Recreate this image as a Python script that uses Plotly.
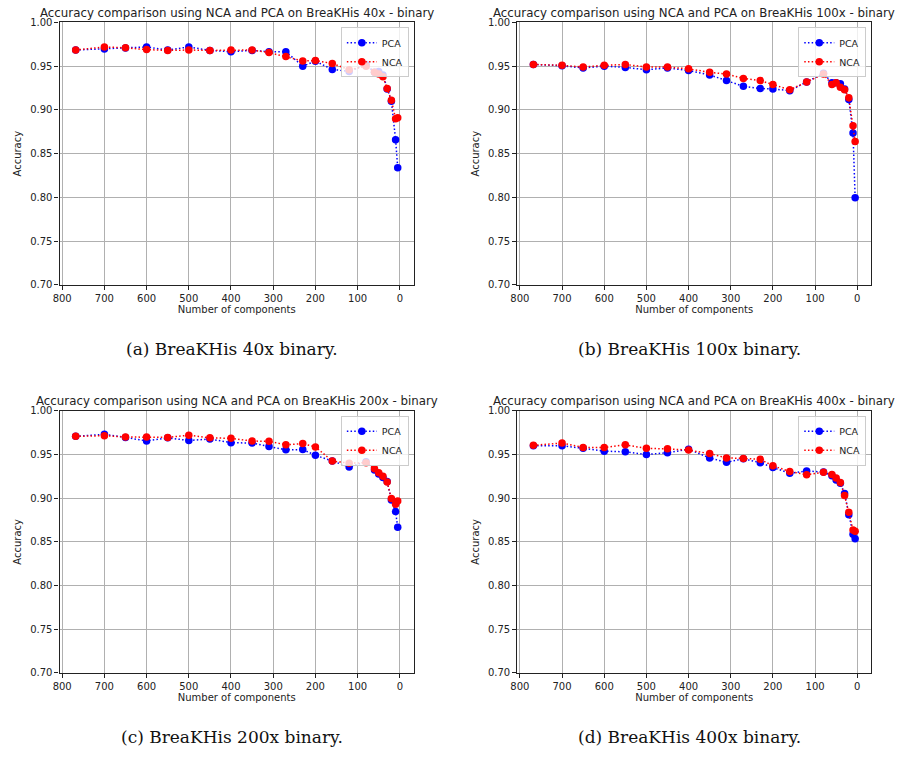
import plotly.graph_objects as go

components = [768, 700, 650, 600, 550, 500, 450, 400, 350, 310, 270, 230, 200,
              160, 120, 80, 60, 50, 40, 30, 20, 10, 5]

pca_40x = [0.9685, 0.9696, 0.9707, 0.972, 0.9685, 0.972, 0.968, 0.9666, 0.968, 0.9666,
           0.9666, 0.950, 0.9557, 0.9463, 0.944, 0.952, 0.943, 0.944, 0.940, 0.924,
           0.910, 0.866, 0.834]
nca_40x = [0.9685, 0.972, 0.971, 0.969, 0.968, 0.9685, 0.968, 0.9685, 0.9685, 0.9655,
           0.961, 0.956, 0.9565, 0.953, 0.946, 0.950, 0.943, 0.941, 0.938, 0.9245,
           0.911, 0.890, 0.891]

pca_100x = [0.952, 0.9505, 0.948, 0.950, 0.9486, 0.946, 0.948, 0.945, 0.940, 0.9335,
            0.927, 0.9245, 0.924, 0.922, 0.932, 0.942, 0.931, 0.931, 0.930, 0.924,
            0.912, 0.8735, 0.7995]
nca_100x = [0.952, 0.951, 0.949, 0.951, 0.952, 0.949, 0.949, 0.947, 0.943, 0.941,
            0.936, 0.9335, 0.929, 0.923, 0.932, 0.941, 0.929, 0.931, 0.926, 0.923,
            0.914, 0.882, 0.864]

pca_200x = [0.9707, 0.973, 0.9695, 0.9655, 0.969, 0.966, 0.9677, 0.9635, 0.963, 0.959,
            0.9553, 0.9556, 0.949, 0.9425, 0.9357, 0.9417, 0.9323, 0.9275, 0.9237, 0.919,
            0.8978, 0.8846, 0.8666]
nca_200x = [0.9707, 0.9715, 0.970, 0.970, 0.9695, 0.972, 0.969, 0.9685, 0.9654, 0.965,
            0.961, 0.9624, 0.9586, 0.9425, 0.940, 0.9406, 0.9335, 0.929, 0.925, 0.9185,
            0.8996, 0.893, 0.8966]

pca_400x = [0.960, 0.960, 0.957, 0.9538, 0.953, 0.950, 0.952, 0.956, 0.946, 0.941,
            0.945, 0.9406, 0.935, 0.9286, 0.931, 0.930, 0.9256, 0.9207, 0.917, 0.9053,
            0.881, 0.8587, 0.8534]
nca_400x = [0.9605, 0.963, 0.958, 0.958, 0.961, 0.957, 0.9564, 0.955, 0.951, 0.946,
            0.9455, 0.9444, 0.937, 0.9305, 0.9267, 0.9297, 0.927, 0.923, 0.918, 0.903,
            0.884, 0.8636, 0.862]

titles = ["Accuracy comparison using NCA and PCA on BreaKHis 40x - binary",
          "Accuracy comparison using NCA and PCA on BreaKHis 100x - binary",
          "Accuracy comparison using NCA and PCA on BreaKHis 200x - binary",
          "Accuracy comparison using NCA and PCA on BreaKHis 400x - binary"]
captions = ["(a) BreaKHis 40x binary.", "(b) BreaKHis 100x binary.",
            "(c) BreaKHis 200x binary.", "(d) BreaKHis 400x binary."]
y_ticks = [0.70, 0.75, 0.80, 0.85, 0.90, 0.95, 1.00]
x_ticks = [0, 100, 200, 300, 400, 500, 600, 700, 800]

W, H = 899, 763
panels = [
    (pca_40x, nca_40x, (53.0, 410.0), (17.7, 284.0)),
    (pca_100x, nca_100x, (514.3, 871.0), (17.7, 284.0)),
    (pca_200x, nca_200x, (53.0, 410.0), (411.7, 677.7)),
    (pca_400x, nca_400x, (514.3, 871.0), (411.7, 677.7)),
]
caption_y = [349, 349, 743, 743]

FONT = "DejaVu Sans"
fig = go.Figure()
annotations = []
layout = dict(width=W, height=H, margin=dict(l=0, r=0, t=0, b=0),
              paper_bgcolor="white", plot_bgcolor="white", showlegend=True)

for i, (pca, nca, (x0, x1), (y0, y1)) in enumerate(panels):
    n = i + 1
    sfx = "" if n == 1 else str(n)
    lg = "legend" if n == 1 else f"legend{n}"
    fig.add_trace(go.Scatter(x=components, y=pca, name="PCA", mode="lines+markers",
                             line=dict(color="blue", dash="1.5px,2.2px", width=1.5),
                             marker=dict(color="blue", size=7.5),
                             xaxis="x" + sfx, yaxis="y" + sfx, legend=lg))
    fig.add_trace(go.Scatter(x=components, y=nca, name="NCA", mode="lines+markers",
                             line=dict(color="red", dash="1.5px,2.2px", width=1.5),
                             marker=dict(color="red", size=7.5),
                             xaxis="x" + sfx, yaxis="y" + sfx, legend=lg))
    dx = [x0 / W, x1 / W]
    dy = [1 - y1 / H, 1 - y0 / H]
    axcommon = dict(showline=True, linecolor="#222", linewidth=1.2, mirror=True,
                    ticks="outside", ticklen=4, tickcolor="#222",
                    showgrid=True, gridcolor="#b0b0b0", gridwidth=1,
                    zeroline=False, tickfont=dict(family=FONT, size=10, color="#222"))
    layout["xaxis" + sfx] = dict(axcommon, domain=dx, anchor="y" + sfx,
                                 range=[806.15, -33.15], tickvals=x_ticks,
                                 title=dict(text="Number of components",
                                            font=dict(family=FONT, size=10, color="#222"),
                                            standoff=2))
    layout["yaxis" + sfx] = dict(axcommon, domain=dy, anchor="x" + sfx,
                                 range=[0.70, 1.00], tickvals=y_ticks, tickformat=".2f",
                                 title=dict(text="Accuracy",
                                            font=dict(family=FONT, size=10, color="#222"),
                                            standoff=6))
    layout[lg] = dict(x=(x1 - 5) / W, y=1 - (y0 + 5) / H, xanchor="right", yanchor="top",
                      bgcolor="rgba(255,255,255,0.8)", bordercolor="#cccccc", borderwidth=1,
                      font=dict(family=FONT, size=9.5, color="#222"),
                      tracegroupgap=0, itemwidth=30)
    annotations.append(dict(text=titles[i], x=(x0 + x1) / 2 / W, y=1 - (y0 - 10) / H,
                            xref="paper", yref="paper", showarrow=False,
                            xanchor="center", yanchor="middle",
                            font=dict(family=FONT, size=11.8, color="#222")))
    annotations.append(dict(text=captions[i], x=(x0 + x1) / 2 / W - 0.005,
                            y=1 - caption_y[i] / H,
                            xref="paper", yref="paper", showarrow=False,
                            xanchor="center", yanchor="middle",
                            font=dict(family="DejaVu Serif", size=17, color="#111")))

layout["annotations"] = annotations
fig.update_layout(**layout)
fig.write_html("out.html", config={"displayModeBar": False},
               post_script="document.body.style.margin='0px';document.body.style.overflow='hidden';")
